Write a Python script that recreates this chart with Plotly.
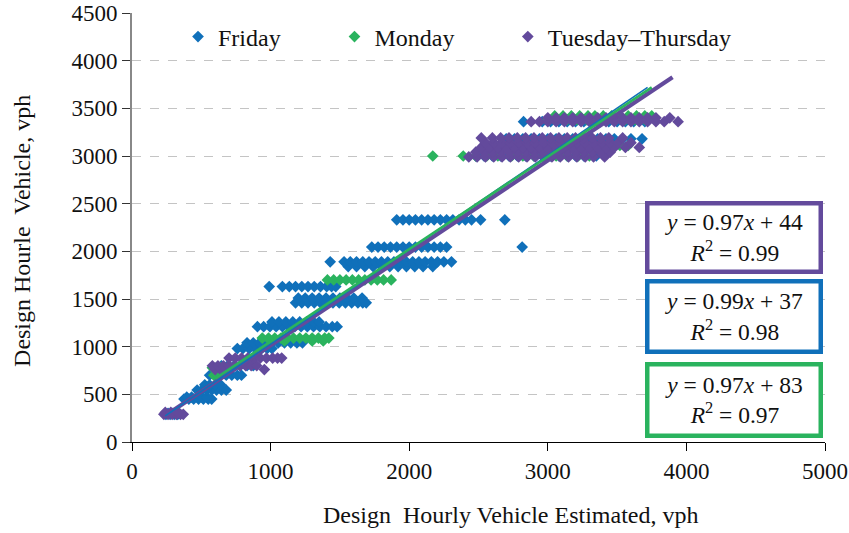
import plotly.graph_objects as go

# ---- Observations: design hourly volume, estimated (x) vs. measured (y), vph ----
# Each series is stored as rows of points sharing (roughly) the same measured value.
friday_rows_y = [290, 300, 450, 470, 545, 600, 700, 800, 980, 1040, 1210, 1260,
                 1460, 1510, 1630, 1840, 1890, 2045, 2330, 3000, 3180, 3360]
friday_rows_x = [
    [245, 275, 305, 330],
    [260, 295, 340],
    [375, 410, 445, 480, 515, 550, 575],
    [395, 430, 470, 505, 540],
    [470, 505, 540, 575, 610, 645, 680],
    [525, 560, 600, 640],
    [560, 600, 640, 680, 720, 760, 790],
    [645, 690, 735, 780, 830, 875],
    [760, 800, 845, 890, 935, 975, 1010],
    [830, 875, 920, 965, 1010, 1055, 1100, 1145, 1190, 1230],
    [905, 950, 995, 1040, 1085, 1130, 1175, 1220, 1265, 1310, 1355, 1400, 1445, 1480],
    [1010, 1060, 1110, 1160, 1210, 1260, 1310, 1350],
    [1180, 1225, 1270, 1315, 1360, 1405, 1450, 1495, 1540, 1585, 1630, 1665, 1690],
    [1200, 1250, 1300, 1350, 1400, 1450, 1500, 1550, 1600, 1660],
    [990, 1085, 1135, 1180, 1225, 1270, 1315, 1360, 1405, 1440, 1470],
    [1560, 1620, 1680, 1740, 1800, 1860, 1920, 1980, 2040, 2100, 2170],
    [1430, 1530, 1575, 1620, 1665, 1710, 1755, 1800, 1845, 1890, 1935, 1980, 2025,
     2070, 2115, 2160, 2205, 2250, 2305],
    [1730, 1775, 1820, 1865, 1910, 1955, 2000, 2045, 2090, 2135, 2180, 2225, 2270, 2815],
    [1910, 1955, 2000, 2045, 2090, 2135, 2180, 2225, 2270, 2315, 2360, 2405, 2450,
     2515, 2690],
    [2480, 2540, 2600, 2660, 2720, 2780, 2840, 2900, 2960, 3020, 3080, 3140, 3200,
     3260, 3350],
    [2700, 2760, 2820, 2880, 2940, 3000, 3060, 3120, 3180, 3240, 3300, 3360, 3420,
     3480, 3540, 3600, 3680],
    [2825, 2960, 3020, 3080, 3140, 3200, 3260, 3320, 3380, 3440, 3500, 3560, 3620, 3700],
]

monday_rows_y = [700, 780, 1060, 1090, 1700, 3000, 3110, 3380, 3420]
monday_rows_x = [
    [590, 620],
    [580, 610, 640],
    [1000, 1100, 1300, 1380],
    [940, 985, 1030, 1075, 1120, 1165, 1210, 1255, 1300, 1345, 1390, 1420],
    [1410, 1455, 1500, 1545, 1590, 1635, 1680, 1725, 1770, 1815, 1870],
    [2170, 2390, 2480, 2560, 2640, 2740, 2820, 2900, 2980, 3060, 3140, 3220, 3300],
    [3520, 3580],
    [3000, 3070, 3140, 3210, 3280, 3350, 3420, 3490, 3560, 3630, 3700],
    [3050, 3110, 3170, 3230, 3290, 3340, 3400, 3460, 3520, 3580, 3640, 3700, 3750],
]

midweek_rows_y = [290, 310, 760, 800, 880, 2990, 3040, 3090, 3140, 3190, 3360, 3400]
midweek_rows_x = [
    [230, 260, 290, 320, 350, 370],
    [240, 280, 330],
    [600, 640, 955],
    [580, 620, 660, 700, 740, 780, 820, 860, 900],
    [700, 745, 790, 835, 880, 925, 970, 1015, 1050, 1080],
    [2430, 2490, 2550, 2610, 2670, 2730, 2790, 2850, 2910, 2970, 3030, 3090, 3150,
     3210, 3270, 3330, 3410],
    [2480, 2540, 2600, 2660, 2720, 2780, 2840, 2900, 2960, 3020, 3080, 3140, 3200,
     3260, 3320, 3380, 3450],
    [2520, 2580, 2640, 2700, 2760, 2820, 2880, 2940, 3000, 3060, 3120, 3180, 3240,
     3300, 3360, 3420, 3480, 3560, 3660],
    [2550, 2610, 2670, 2730, 2790, 2850, 2910, 2970, 3030, 3090, 3150, 3210, 3270,
     3330, 3390, 3450, 3510, 3600],
    [2520, 2600, 2660, 2720, 2780, 2840, 2900, 2960, 3020, 3080, 3140, 3200, 3260,
     3320, 3380, 3440, 3540],
    [2880, 2940, 3000, 3060, 3120, 3180, 3240, 3300, 3360, 3420, 3480, 3540, 3600,
     3660, 3720, 3780, 3840, 3940],
    [3000, 3060, 3120, 3180, 3240, 3300, 3360, 3420, 3480, 3540, 3600, 3660, 3720,
     3780, 3880],
]

# ---- Linear fits (slope, intercept, R²) and the x-span each fit line covers ----
series_names = ["Friday", "Monday", "Tuesday\u2013Thursday"]
series_colors = ["#1070BA", "#2AB35E", "#634A9C"]
fit_slope = [0.99, 0.97, 0.97]
fit_intercept = [37, 83, 44]
fit_r2 = [0.98, 0.97, 0.99]
fit_x_start = [240, 600, 225]
fit_x_end = [3720, 3750, 3900]

x_ticks = [0, 1000, 2000, 3000, 4000, 5000]
y_ticks = [0, 500, 1000, 1500, 2000, 2500, 3000, 3500, 4000, 4500]

FONT = "Liberation Serif, Times New Roman, serif"
TEXT_COLOR = "#111111"


def flatten(rows_y, rows_x):
    xs, ys = [], []
    for yv, row in zip(rows_y, rows_x):
        xs.extend(row)
        ys.extend([yv] * len(row))
    return xs, ys


series_data = [
    flatten(friday_rows_y, friday_rows_x),
    flatten(monday_rows_y, monday_rows_x),
    flatten(midweek_rows_y, midweek_rows_x),
]
legend_ids = ["legend", "legend2", "legend3"]

fig = go.Figure()

for (xs, ys), name, color, lg in zip(series_data, series_names, series_colors, legend_ids):
    fig.add_trace(go.Scatter(
        x=xs, y=ys, mode="markers", name=name, legend=lg,
        marker=dict(symbol="diamond", size=9, color=color, line=dict(width=0)),
    ))

# fit lines: purple (wide) first, then the thin blue and the green on top
line_order = [2, 0, 1]
line_widths = {0: 1.6, 1: 2.6, 2: 4.2}
for i in line_order:
    xs = [fit_x_start[i], fit_x_end[i]]
    ys = [fit_slope[i] * v + fit_intercept[i] for v in xs]
    fig.add_trace(go.Scatter(
        x=xs, y=ys, mode="lines", showlegend=False, hoverinfo="skip",
        line=dict(color=series_colors[i], width=line_widths[i]),
    ))

# equation boxes (Tue–Thu, Friday, Monday from top to bottom)
box_order = [2, 0, 1]
box_y = [0.4767, 0.292, 0.098]
box_h = [64, 66, 67]
for i, yb, h in zip(box_order, box_y, box_h):
    text = (f"<i>y</i> = {fit_slope[i]:.2f}<i>x</i> + {fit_intercept[i]}"
            f"<br><i>R</i><sup>2</sup> = {fit_r2[i]:.2f}")
    fig.add_annotation(
        xref="paper", yref="paper", x=0.8687, y=yb, xanchor="center", yanchor="middle",
        text=text, showarrow=False, align="center",
        font=dict(family=FONT, size=23.5, color=TEXT_COLOR),
        bgcolor="white", bordercolor=series_colors[i], borderwidth=4.5, borderpad=0,
        width=169, height=h,
    )

# axis titles
fig.add_annotation(
    xref="paper", yref="paper", x=0.547, y=-0.170, xanchor="center", yanchor="middle",
    text="Design\u00a0 Hourly Vehicle Estimated, vph", showarrow=False,
    font=dict(family=FONT, size=24, color=TEXT_COLOR),
)
fig.add_annotation(
    xref="paper", yref="paper", x=-0.1587, y=0.492, xanchor="center", yanchor="middle",
    text="Design Hourle\u00a0 Vehicle, vph", showarrow=False, textangle=-90,
    font=dict(family=FONT, size=24, color=TEXT_COLOR),
)

legend_common = dict(
    orientation="h", yanchor="middle", y=0.944, xanchor="left",
    font=dict(family=FONT, size=24, color=TEXT_COLOR),
    bgcolor="rgba(0,0,0,0)", itemwidth=30, tracegroupgap=0,
)
fig.update_layout(
    legend=dict(x=0.0664, **legend_common),
    legend2=dict(x=0.2922, **legend_common),
    legend3=dict(x=0.5423, **legend_common),
)

fig.update_layout(
    width=849, height=533,
    margin=dict(l=132, r=24, t=13, b=91),
    paper_bgcolor="white", plot_bgcolor="white",
    font=dict(family=FONT, size=23, color=TEXT_COLOR),
    xaxis=dict(
        range=[0, 5000], tickvals=x_ticks, ticktext=[str(v) for v in x_ticks],
        showgrid=False, zeroline=False, automargin=False, ticklabeloverflow="allow",
        showline=True, linecolor="#000000", linewidth=1.2,
        ticks="outside", ticklen=8, tickwidth=1.2, tickcolor="#000000",
        tickfont=dict(family=FONT, size=23, color=TEXT_COLOR),
    ),
    yaxis=dict(
        range=[0, 4500], tickvals=y_ticks, ticktext=[str(v) for v in y_ticks],
        showgrid=True, gridcolor="#C4C4C4", griddash="dash", gridwidth=1,
        zeroline=False, automargin=False, ticklabeloverflow="allow",
        showline=True, linecolor="#888888", linewidth=2,
        ticks="outside", ticklen=8, tickwidth=1.2, tickcolor="#333333",
        tickfont=dict(family=FONT, size=23, color=TEXT_COLOR),
    ),
)

fig.write_html("out.html")
